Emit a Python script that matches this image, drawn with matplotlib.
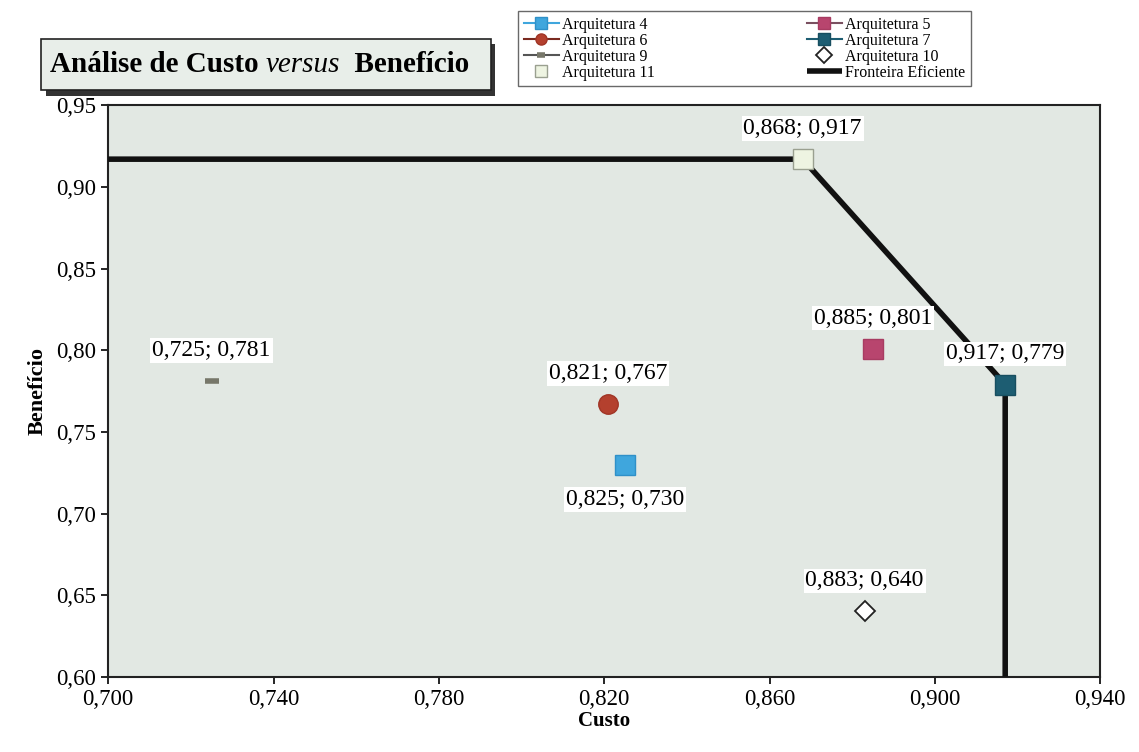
import matplotlib
matplotlib.use("Agg")
import matplotlib.pyplot as plt
from matplotlib.ticker import FuncFormatter
from matplotlib.patches import Rectangle

plt.rcParams['font.family'] = ['Liberation Serif', 'DejaVu Serif']

# Architectures: (custo, benefício)
names = ["Arquitetura 4", "Arquitetura 6", "Arquitetura 9", "Arquitetura 11",
         "Arquitetura 5", "Arquitetura 7", "Arquitetura 10"]
custo = [0.825, 0.821, 0.725, 0.868, 0.885, 0.917, 0.883]
beneficio = [0.730, 0.767, 0.781, 0.917, 0.801, 0.779, 0.640]

# Efficient frontier vertices
frontier_x = [0.700, 0.868, 0.917, 0.917]
frontier_y = [0.917, 0.917, 0.779, 0.600]

x_ticks = [0.700, 0.740, 0.780, 0.820, 0.860, 0.900, 0.940]
y_ticks = [0.60, 0.65, 0.70, 0.75, 0.80, 0.85, 0.90, 0.95]

styles = {
    "Arquitetura 4": dict(marker="s", ms=14, mfc="#3fa6dd", mec="#2f90c8", color="#3fa6dd"),
    "Arquitetura 6": dict(marker="o", ms=14, mfc="#b4402e", mec="#a03526", color="#7a2a20"),
    "Arquitetura 9": dict(marker="_", ms=10, mew=4, mfc="#77776a", mec="#77776a", color="#555555"),
    "Arquitetura 11": dict(marker="s", ms=15, mfc="#eef4e2", mec="#9aa090", color="none"),
    "Arquitetura 5": dict(marker="s", ms=15, mfc="#b8456e", mec="#a83c62", color="#7a5060"),
    "Arquitetura 7": dict(marker="s", ms=15, mfc="#1d5d72", mec="#174e60", color="#1d5d72"),
    "Arquitetura 10": dict(marker="D", ms=10, mfc="white", mec="#222222", mew=1.3, color="none"),
}
label_below = {"Arquitetura 4"}

fig = plt.figure(figsize=(11.39, 7.52), dpi=100)
ax = fig.add_axes([0.095, 0.100, 0.871, 0.760])
ax.set_facecolor("#e2e8e3")

handles = {}
for n, x, y in zip(names, custo, beneficio):
    st = dict(styles[n])
    line_color = st.pop("color")
    ax.plot([x], [y], linestyle="none", zorder=4, **st)
    leg_st = {k: v for k, v in st.items() if k != "ms"}
    h, = ax.plot([], [], linestyle="-" if line_color != "none" else "none",
                 color=line_color if line_color != "none" else "k", lw=1.5,
                 label=n, ms=(8 if st["marker"] != "_" else 6), **leg_st)
    handles[n] = h
    txt = f"{x:.3f}; {y:.3f}".replace(".", ",")
    dy = -25 if n in label_below else 22
    ax.annotate(txt, (x, y), xytext=(0, dy), textcoords="offset points",
                ha="center", va="center", fontsize=17, zorder=5,
                bbox=dict(boxstyle="square,pad=0.08", fc="white", ec="none"))

fr, = ax.plot(frontier_x, frontier_y, color="#111111", lw=4, zorder=3,
              solid_capstyle="butt", label="Fronteira Eficiente")
handles["Fronteira Eficiente"] = fr

ax.set_xlim(0.700, 0.940)
ax.set_ylim(0.600, 0.950)
ax.set_xticks(x_ticks)
ax.set_yticks(y_ticks)
ax.xaxis.set_major_formatter(FuncFormatter(lambda v, p: f"{v:.3f}".replace(".", ",")))
ax.yaxis.set_major_formatter(FuncFormatter(lambda v, p: f"{v:.2f}".replace(".", ",")))
ax.tick_params(labelsize=16.5, direction="out", length=5, width=1.2)
for s in ax.spines.values():
    s.set_linewidth(1.5)
    s.set_color("#222222")
ax.set_xlabel("Custo", fontsize=15, fontweight="bold", labelpad=1)
ax.set_ylabel("Benefício", fontsize=16, fontweight="bold", labelpad=6)

order = ["Arquitetura 4", "Arquitetura 6", "Arquitetura 9", "Arquitetura 11",
         "Arquitetura 5", "Arquitetura 7", "Arquitetura 10", "Fronteira Eficiente"]
leg = fig.legend([handles[k] for k in order], order, ncol=2, loc="upper left",
                 bbox_to_anchor=(0.455, 0.985), fontsize=11.5, frameon=True,
                 fancybox=False, edgecolor="#444444", handlelength=2.2,
                 labelspacing=0.0, columnspacing=9.5, borderpad=0.35,
                 handletextpad=0.2, borderaxespad=0)
leg.get_frame().set_linewidth(1.0)

# Title box with drop shadow
bx0, by0, bw, bh = 0.036, 0.880, 0.395, 0.068
fig.patches.append(Rectangle((bx0 + 0.004, by0 - 0.007), bw, bh, transform=fig.transFigure,
                             fc="#333333", ec="none", zorder=1))
fig.patches.append(Rectangle((bx0, by0), bw, bh, transform=fig.transFigure,
                             fc="#e8eee9", ec="#222222", lw=1.2, zorder=2))

fig.canvas.draw()
r = fig.canvas.get_renderer()
parts = [("Análise de Custo ", "normal", "bold"), ("versus", "italic", "normal"),
         ("  Benefício", "normal", "bold")]
x = bx0 + 0.008
ty = by0 + bh / 2
for s, style, weight in parts:
    t = fig.text(x, ty, s, fontsize=21, fontstyle=style, fontweight=weight,
                 va="center", ha="left", zorder=3)
    bb = t.get_window_extent(renderer=r)
    x += bb.width / fig.bbox.width

fig.savefig("out.png", dpi=100, facecolor="white")
